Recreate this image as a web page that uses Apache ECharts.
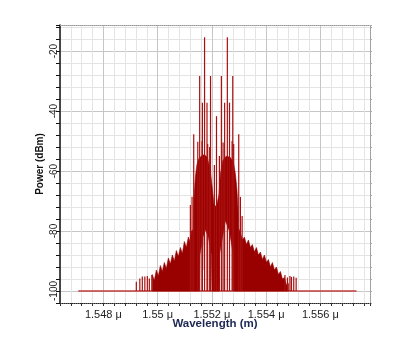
<html>
<head>
<script src="https://cdn.jsdelivr.net/npm/echarts@6/dist/echarts.min.js"></script>
</head>
<body style="margin:0;background:#fff">
<div id="main" style="height:353px;width:414px;"></div>
<script type="text/javascript">
// wavelength in micrometre, power in dBm
// upper outline of the dense spectrum band, left to right
var topWl = [1.549804, 1.549878, 1.549952, 1.550026, 1.550100, 1.550173, 1.550247, 1.550321,
	1.550395, 1.550469, 1.550542, 1.550616, 1.550690, 1.550764, 1.550838, 1.550911,
	1.550985, 1.551059, 1.551133, 1.551207, 1.551244, 1.551317, 1.551336, 1.551391,
	1.551446, 1.551513, 1.551613, 1.551723, 1.551834, 1.551945, 1.552018, 1.552074,
	1.552166, 1.552258, 1.552314, 1.552406, 1.552535, 1.552683, 1.552793, 1.552867,
	1.552923, 1.552959, 1.552978, 1.553052, 1.553125, 1.553199, 1.553273, 1.553347,
	1.553421, 1.553494, 1.553568, 1.553642, 1.553716, 1.553790, 1.553863, 1.553937,
	1.554011, 1.554085, 1.554159, 1.554232, 1.554306, 1.554380, 1.554454, 1.554528,
	1.554601, 1.554675, 1.554749, 1.554823];
var topDb = [-94.5, -96.5, -93.0, -95.0, -91.5, -93.5, -90.5, -92.5,
	-89.0, -91.0, -88.0, -90.0, -86.5, -88.5, -85.5, -87.5,
	-83.5, -85.5, -82.0, -84.0, -80.0, -79.5, -70, -62,
	-58, -56, -55, -54.5, -55.5, -60, -66, -71,
	-72, -68, -61, -56.5, -55, -55.5, -57, -61,
	-66, -72, -79, -80.5, -83, -82, -84.5, -83,
	-85.5, -84.5, -87, -85.5, -88, -87, -89.5, -88,
	-90.5, -89.5, -92, -90.5, -93, -92, -94.5, -93.5,
	-96, -95.5, -98, -97.5];
// lower outline of the band (white pockets under the two cores)
var botWl = [1.549804, 1.551539, 1.551557, 1.551650, 1.551661, 1.551679, 1.551760, 1.551871,
	1.551982, 1.552000, 1.552258, 1.552277, 1.552498, 1.552645, 1.552793, 1.552812, 1.554823];
var botDb = [-100, -100, -88, -83, -93, -82, -79.5, -82,
	-88, -100, -100, -88, -76.5, -80, -88, -100, -100];
// single spectral lines standing out of the band
var spikeWl = [1.549214, 1.549343, 1.549435, 1.549528, 1.549620, 1.549694, 1.549786,
	1.551207, 1.551269, 1.551330, 1.551480, 1.551550, 1.551638, 1.551650, 1.551730,
	1.551820, 1.551845, 1.551919, 1.551950, 1.552092, 1.552170, 1.552277, 1.552350,
	1.552413, 1.552470, 1.552570, 1.552650, 1.552745, 1.552770, 1.552804, 1.552990,
	1.553052, 1.553115,
	1.554694, 1.554786, 1.554878, 1.554934, 1.555018, 1.555107];
var spikeDb = [-96.9, -95.8, -95.2, -95.2, -95.0, -95.8, -94.7,
	-71.3, -68.6, -47.7, -50.2, -28.3, -50, -37.2, -15.4,
	-37.2, -51, -52, -28.3, -58, -41.7, -55, -28.3,
	-50.5, -37.2, -15.4, -37.2, -50, -28.3, -51, -47.7,
	-68.6, -75,
	-94.7, -95.5, -95, -95.3, -95.2, -95.6];
// noise floor
var floorWl = [1.547074, 1.557332];
var floorDb = [-100, -100];

var myChart = echarts.init(document.getElementById('main'));
var minorC = '#e4e4e4', majorC = '#c6c6c6';
var font = "'Liberation Sans', Arial, sans-serif";

option = {
	animation : false,
	backgroundColor : '#fff',
	grid : { left : 60, right : 44, top : 25, bottom : 50 },
	xAxis : [ {
		type : 'value',
		min : 1.5464,
		max : 1.55783,
		interval : 0.0004,
		axisLine : { lineStyle : { color : '#222', width : 1, type : 'dotted' } },
		axisTick : { length : 3, lineStyle : { color : '#333' } },
		axisLabel : {
			margin : 6,
			fontSize : 11,
			fontFamily : font,
			color : '#222',
			formatter : function(v) {
				var k = Math.round(v * 10000);
				if (k % 20 !== 0) return '';
				return (k / 10000) + ' μ';
			}
		},
		splitLine : { show : true, lineStyle : { color : [ minorC, minorC, minorC, minorC, majorC ], width : 1 } },
		name : 'Wavelength (m)',
		nameLocation : 'middle',
		nameGap : 15,
		nameMoveOverlap : false,
		nameTextStyle : { fontWeight : 'bold', fontSize : 11.5, fontFamily : font, color : '#1c2752' }
	}, {
		type : 'value',
		position : 'top',
		min : 1.5464,
		max : 1.55783,
		interval : 0.0004,
		axisLine : { lineStyle : { color : '#999', type : 'dotted' } },
		axisTick : { show : false },
		axisLabel : { show : false },
		splitLine : { show : false }
	} ],
	yAxis : [ {
		type : 'value',
		min : -104,
		max : -11.3,
		interval : 4,
		axisLine : { show : true, lineStyle : { color : '#111', width : 1.5 } },
		axisTick : { show : true, length : 4, lineStyle : { color : '#111' } },
		axisLabel : {
			rotate : 90,
			margin : 1,
			fontSize : 10,
			fontFamily : font,
			color : '#222',
			formatter : function(v) {
				if (Math.abs(v % 20) > 0.001) return '';
				return String(v);
			}
		},
		splitLine : { show : true, lineStyle : { color : [ minorC, majorC, minorC, minorC, minorC ], width : 1 } },
		name : 'Power (dBm)',
		nameLocation : 'middle',
		nameGap : 15,
		nameMoveOverlap : false,
		nameTextStyle : { fontWeight : 'bold', fontSize : 10, fontFamily : font, color : '#111' }
	}, {
		type : 'value',
		position : 'right',
		min : -104,
		max : -11.3,
		interval : 4,
		axisLine : { show : true, lineStyle : { color : '#999', type : 'dotted' } },
		axisTick : { show : true, length : 2, lineStyle : { color : '#aaa' } },
		axisLabel : { show : false },
		splitLine : { show : false }
	} ],
	series : [ {
		type : 'line',
		showSymbol : false,
		data : floorWl.map(function(w, i) { return [ w, floorDb[i] ]; }),
		lineStyle : { color : '#c23b3b', width : 1.5 },
		z : 2
	}, {
		type : 'custom',
		data : [ 0 ],
		renderItem : function(params, api) {
			var pts = [];
			for (var i = 0; i < topWl.length; i++) pts.push(api.coord([ topWl[i], topDb[i] ]));
			for (var j = botWl.length - 1; j >= 0; j--) pts.push(api.coord([ botWl[j], botDb[j] ]));
			return { type : 'polygon', shape : { points : pts }, style : { fill : '#990000', stroke : '#990000', lineWidth : 0.6 } };
		},
		z : 3
	}, {
		type : 'custom',
		data : spikeWl.map(function(w, i) { return [ w, spikeDb[i] ]; }),
		renderItem : function(params, api) {
			var p0 = api.coord([ api.value(0), -100 ]);
			var p1 = api.coord([ api.value(0), api.value(1) ]);
			return { type : 'line', shape : { x1 : p0[0], y1 : p0[1], x2 : p1[0], y2 : p1[1] },
				style : { stroke : '#a80f0f', lineWidth : 1.2 } };
		},
		z : 4
	} ]
};
myChart.setOption(option);
</script>
</body>
</html>
